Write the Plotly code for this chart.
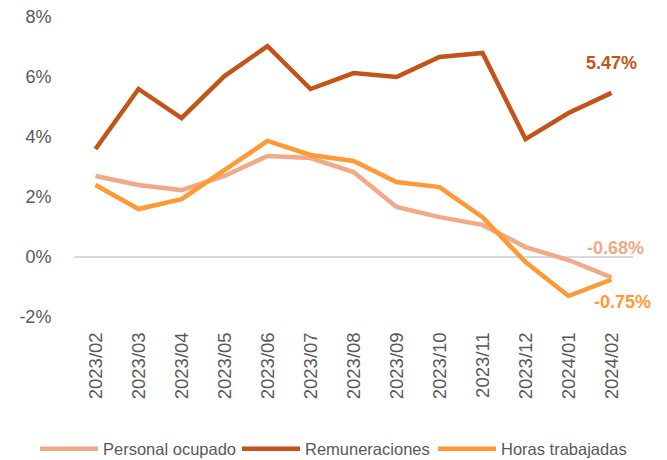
import plotly.graph_objects as go

categories = ["2023/02", "2023/03", "2023/04", "2023/05", "2023/06", "2023/07", "2023/08",
              "2023/09", "2023/10", "2023/11", "2023/12", "2024/01", "2024/02"]
personal_ocupado = [2.70, 2.40, 2.23, 2.70, 3.37, 3.30, 2.83, 1.67, 1.33, 1.07, 0.33, -0.10, -0.68]
remuneraciones = [3.60, 5.60, 4.63, 6.03, 7.03, 5.60, 6.13, 6.00, 6.67, 6.80, 3.93, 4.80, 5.47]
horas_trabajadas = [2.40, 1.60, 1.93, 2.90, 3.87, 3.40, 3.20, 2.50, 2.33, 1.33, -0.17, -1.30, -0.75]
y_ticks = [-2, 0, 2, 4, 6, 8]
y_tick_labels = ["-2%", "0%", "2%", "4%", "6%", "8%"]

c_pers = "#F2A985"
c_rem = "#C25418"
c_hor = "#FF9933"

W, H = 659, 452

fig = go.Figure()
fig.add_trace(go.Scatter(x=categories, y=personal_ocupado, mode="lines", name="Personal ocupado",
                         line=dict(color=c_pers, width=4.5), legend="legend"))
fig.add_trace(go.Scatter(x=categories, y=remuneraciones, mode="lines", name="Remuneraciones",
                         line=dict(color=c_rem, width=4.5), legend="legend2"))
fig.add_trace(go.Scatter(x=categories, y=horas_trabajadas, mode="lines", name="Horas trabajadas",
                         line=dict(color=c_hor, width=4.5), legend="legend3"))

last = categories[-1]
fig.add_annotation(x=last, y=remuneraciones[-1], text="<b>%.2f%%</b>" % remuneraciones[-1],
                   showarrow=False, yshift=30, font=dict(color=c_rem, size=18))
fig.add_annotation(x=last, y=personal_ocupado[-1], text="<b>%.2f%%</b>" % personal_ocupado[-1],
                   showarrow=False, yshift=29, xshift=4, font=dict(color=c_pers, size=18))
fig.add_annotation(x=last, y=horas_trabajadas[-1], text="<b>%.2f%%</b>" % horas_trabajadas[-1],
                   showarrow=False, yshift=-22, xshift=11, font=dict(color=c_hor, size=18))

leg_font = dict(size=16.5, color="#595959", family="Liberation Sans, sans-serif")
leg_y = 1 - 441 / H


def leg(px):
    return dict(orientation="h", x=px / W, xanchor="left", xref="container",
                y=leg_y, yref="container", yanchor="middle",
                font=leg_font, itemwidth=58, bgcolor="rgba(0,0,0,0)")


fig.update_layout(
    width=W, height=H,
    margin=dict(l=66, r=34, t=9, b=143, autoexpand=False),
    paper_bgcolor="white", plot_bgcolor="white",
    font=dict(family="Liberation Sans, Arial, sans-serif", color="#595959"),
    showlegend=True,
    legend=leg(27), legend2=leg(229), legend3=leg(425),
    xaxis=dict(type="category", range=[-0.5, 12.5], tickangle=-90, showgrid=False,
               showline=False, zeroline=False, automargin=False,
               ticks="outside", ticklen=7, tickcolor="rgba(0,0,0,0)",
               tickfont=dict(size=18.5, color="#595959")),
    yaxis=dict(range=[-2, 8], tickvals=y_ticks, ticktext=y_tick_labels, showgrid=False,
               automargin=False, ticklabeloverflow="allow",
               zeroline=True, zerolinecolor="#D9D9D9", zerolinewidth=1.5, showline=False,
               ticks="outside", ticklen=18, tickcolor="rgba(0,0,0,0)",
               tickfont=dict(size=18, color="#595959")),
)

fig.write_html("out.html")
